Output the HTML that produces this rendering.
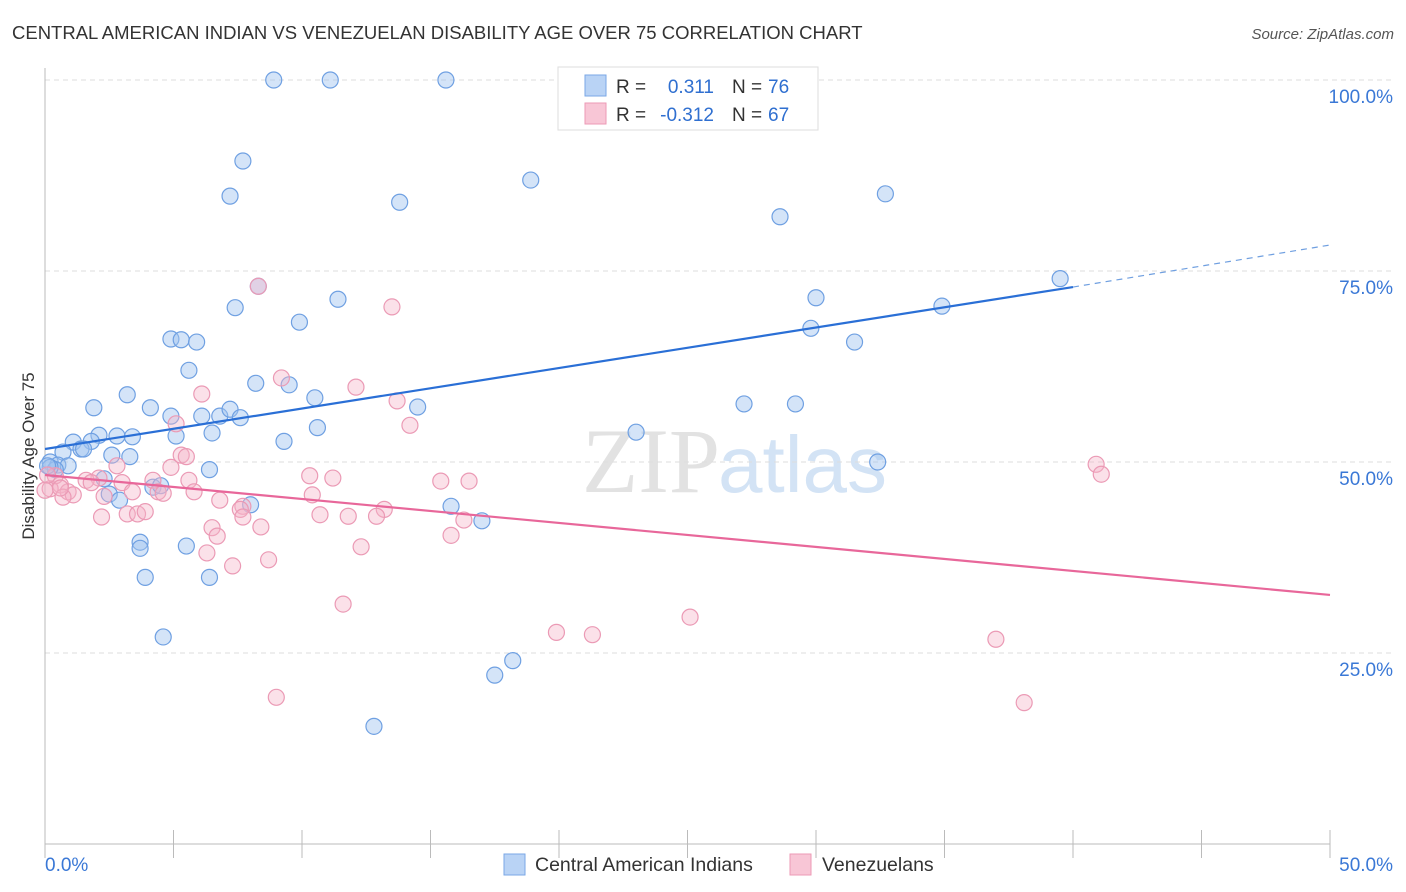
<!DOCTYPE html>
<html><head><meta charset="utf-8"><style>
body{margin:0;background:#fff;font-family:"Liberation Sans",sans-serif;}
svg{display:block}
</style></head><body>
<svg id="chart" width="1406" height="892" font-family="Liberation Sans, sans-serif">
<text x="12" y="39" font-size="18.5" fill="#333">CENTRAL AMERICAN INDIAN VS VENEZUELAN DISABILITY AGE OVER 75 CORRELATION CHART</text>
<text x="1394" y="39" font-size="15" fill="#555" font-style="italic" text-anchor="end">Source: ZipAtlas.com</text>
<text x="720" y="492" font-size="92" fill="#e2e2e2" text-anchor="end" font-family="Liberation Serif, serif">ZIP</text>
<text x="718" y="492" font-size="80" fill="#d3e3f5">atlas</text>
<g id="grid"></g>
<g id="axes"></g>
<g id="pts"></g>
<g id="lines"></g>
<text transform="translate(34,456) rotate(-90)" font-size="17" fill="#333" text-anchor="middle">Disability Age Over 75</text>
<g>
<rect x="558" y="67" width="260" height="63" fill="#fff" stroke="#ddd"/>
<rect x="585" y="75" width="21" height="21" fill="#b9d3f5" stroke="#7aa7e6"/>
<rect x="585" y="103" width="21" height="21" fill="#f8c6d6" stroke="#ec9ab6"/>
<text x="616" y="93" font-size="19" fill="#333">R =</text>
<text x="714" y="93" font-size="19" fill="#2f6fd0" text-anchor="end">0.311</text>
<text x="732" y="93" font-size="19" fill="#333">N =</text>
<text x="768" y="93" font-size="19" fill="#2f6fd0">76</text>
<text x="616" y="121" font-size="19" fill="#333">R =</text>
<text x="714" y="121" font-size="19" fill="#2f6fd0" text-anchor="end">-0.312</text>
<text x="732" y="121" font-size="19" fill="#333">N =</text>
<text x="768" y="121" font-size="19" fill="#2f6fd0">67</text>
</g>
<g>
<rect x="504" y="854" width="21" height="21" fill="#b9d3f5" stroke="#7aa7e6"/>
<text x="535" y="871" font-size="19.5" fill="#333">Central American Indians</text>
<rect x="790" y="854" width="21" height="21" fill="#f8c6d6" stroke="#ec9ab6"/>
<text x="822" y="871" font-size="19.5" fill="#333">Venezuelans</text>
</g>
</svg>
<script>
const blueX=[8.9,11.1,15.6,7.7,18.9,7.2,13.8,32.7,28.6,39.5,8.3,11.4,7.4,34.9,30.0,9.9,29.8,4.9,5.3,5.9,31.5,5.6,8.2,9.5,3.2,10.5,1.9,4.1,14.5,27.2,29.2,4.9,6.1,6.8,7.2,7.6,10.6,9.3,6.5,5.1,2.1,2.8,3.4,23.0,1.1,1.8,1.4,0.7,1.5,2.6,3.3,0.2,0.5,0.9,32.4,6.4,2.3,4.2,4.5,2.5,2.9,8.0,15.8,17.0,3.7,3.7,5.5,3.9,6.4,4.6,18.2,17.5,12.8,0.4,0.2,0.1];
const blueY=[100,100,100,89.4,86.9,84.8,84.0,85.1,82.1,74.0,73.0,71.3,70.2,70.4,71.5,68.3,67.5,66.1,66.0,65.7,65.7,62.0,60.3,60.1,58.8,58.4,57.1,57.1,57.2,57.6,57.6,56.0,56.0,56.0,56.9,55.8,54.5,52.7,53.8,53.4,53.5,53.4,53.3,53.9,52.6,52.7,51.7,51.3,51.7,50.9,50.7,50.0,49.6,49.5,50.0,49.0,47.8,46.7,46.9,45.8,45.0,44.4,44.2,42.3,39.5,38.7,39.0,34.9,34.9,27.1,24.0,22.1,15.4,49.0,49.3,49.5];
const pinkX=[8.3,13.5,9.2,12.1,6.1,13.7,14.2,5.1,5.3,5.5,2.8,4.9,40.9,41.1,10.3,11.2,15.4,16.5,2.1,1.6,1.8,3.0,4.2,5.6,0.6,0.2,0,0.9,1.1,0.7,2.3,3.4,4.4,4.6,5.8,10.4,6.8,7.7,7.6,13.2,2.2,3.2,3.6,3.9,10.7,11.8,12.9,7.7,16.3,6.5,8.4,6.7,15.8,12.3,6.3,8.7,7.3,11.6,19.9,21.3,25.1,37.0,9.0,38.1,0.4,0.6,0.1];
const pinkY=[73.0,70.3,61.0,59.8,58.9,58.0,54.8,55.0,50.9,50.7,49.5,49.3,49.7,48.4,48.2,47.9,47.5,47.5,47.9,47.6,47.3,47.3,47.6,47.6,47.0,46.5,46.3,46.1,45.7,45.4,45.5,46.1,46.1,45.9,46.1,45.7,45.0,44.2,43.8,43.8,42.8,43.2,43.2,43.5,43.1,42.9,42.9,42.8,42.4,41.4,41.5,40.3,40.4,38.9,38.1,37.2,36.4,31.4,27.7,27.4,29.7,26.8,19.2,18.5,48.2,46.6,48.3];
const blueTrend=[51.7,72.9,78.4]; // at x=0, 40, 50
const pinkTrend=[48.3,32.6]; // at x=0, 50
const yTicks=[100,75,50,25];
const yTickLabels=["100.0%","75.0%","50.0%","25.0%"];
const xTickVals=[0,5,10,15,20,25,30,35,40,45,50];

const NS="http://www.w3.org/2000/svg";
const X=v=>45+v*25.7;
const Y=v=>844-v*7.64;
function mk(tag,attrs,parent){const e=document.createElementNS(NS,tag);for(const k in attrs)e.setAttribute(k,attrs[k]);document.getElementById(parent).appendChild(e);return e;}

yTicks.forEach((t,i)=>{
  const l=mk('line',{x1:45,x2:1393,y1:Y(t),y2:Y(t),stroke:'#ddd','stroke-dasharray':'5,4'},'grid');
  
  
  const tx=mk('text',{x:1393,y:Y(t)+23,'font-size':19,fill:'#3a78d6','text-anchor':'end'},'grid');
  tx.textContent=yTickLabels[i];
  
  
});
const ax=mk('line',{x1:45,x2:45,y1:68,y2:844,stroke:'#bbb'},'axes');


const bx=mk('line',{x1:45,x2:1330,y1:844,y2:844,stroke:'#bbb'},'axes');


xTickVals.forEach(v=>{
  const t=mk('line',{x1:X(v),x2:X(v),y1:830,y2:858,stroke:'#bbb'},'axes');
  
  
});
const x0=mk('text',{x:45,y:871,'font-size':19,fill:'#3a78d6'},'axes');x0.textContent='0.0%';


const x1=mk('text',{x:1393,y:871,'font-size':19,fill:'#3a78d6','text-anchor':'end'},'axes');x1.textContent='50.0%';



blueX.forEach((v,i)=>{
  const c=mk('circle',{cx:X(v),cy:Y(blueY[i]),r:8,fill:'rgba(160,195,240,0.45)',stroke:'#6fa0e2','stroke-width':1.2},'pts');
  
  
});
pinkX.forEach((v,i)=>{
  const c=mk('circle',{cx:X(v),cy:Y(pinkY[i]),r:8,fill:'rgba(245,180,200,0.4)',stroke:'#eb9ab5','stroke-width':1.2},'pts');
  
  
});
const bl=mk('line',{x1:X(0),y1:Y(blueTrend[0]),x2:X(40),y2:Y(blueTrend[1]),stroke:'#2a6fd6','stroke-width':2.2},'lines');


const bd=mk('line',{x1:X(40),y1:Y(blueTrend[1]),x2:X(50),y2:Y(blueTrend[2]),stroke:'#6f9fe0','stroke-width':1.2,'stroke-dasharray':'6,5'},'lines');


const pl=mk('line',{x1:X(0),y1:Y(pinkTrend[0]),x2:X(50),y2:Y(pinkTrend[1]),stroke:'#e8679a','stroke-width':2.2},'lines');


</script>
</body></html>
